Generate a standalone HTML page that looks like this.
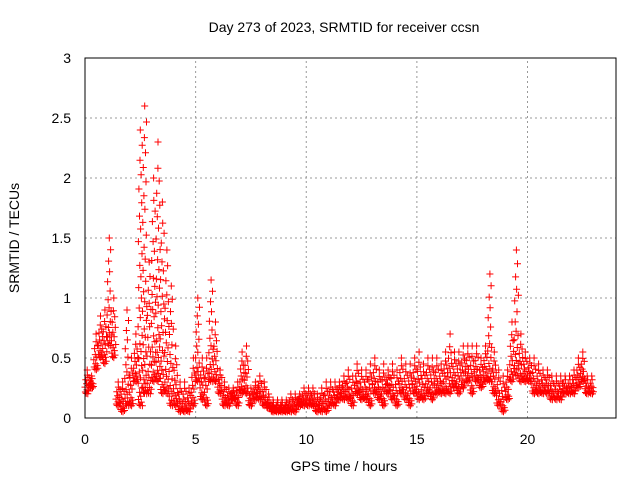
<!DOCTYPE html>
<html><head><meta charset="utf-8"><style>
body{margin:0;background:#fff}
svg text{font-family:"Liberation Sans",sans-serif;font-size:14px;fill:#000}
</style></head><body>
<svg id="chart" width="640" height="480">
<text x="344" y="32" text-anchor="middle">Day 273 of 2023, SRMTID for receiver ccsn</text>
<text transform="translate(19,238) rotate(-90)" text-anchor="middle">SRMTID / TECUs</text>
<text x="344" y="471" text-anchor="middle">GPS time / hours</text>
<g id="grid"></g><g id="ticks"></g><g id="pts"></g>
<rect x="85" y="58" width="531" height="360" fill="none" stroke="#000" stroke-width="1"/>
</svg>
<script>
const xTicks=[0,5,10,15,20];
const yTicks=[0,0.5,1,1.5,2,2.5,3];
const yTickLabels=["0","0.5","1","1.5","2","2.5","3"];
const step=0.2;
const lo=[.2,.25,.4,.5,.45,.6,.5,.1,.05,.1,.1,.3,.1,.2,.2,.3,.3,.2,.2,.1,.1,.05,.05,.05,.1,.3,.15,.1,.3,.3,.2,.1,.1,.15,.1,.2,.2,.1,.15,.15,.1,.08,.05,.05,.05,.05,.05,.05,.1,.1,.1,.1,.05,.05,.05,.1,.1,.15,.15,.15,.1,.2,.15,.15,.1,.2,.15,.1,.2,.15,.1,.2,.15,.1,.2,.15,.15,.2,.15,.2,.2,.2,.2,.25,.2,.25,.3,.2,.3,.25,.3,.3,.2,.1,.05,.15,.3,.35,.3,.3,.3,.2,.2,.2,.2,.15,.15,.15,.2,.2,.2,.25,.3,.2,.2];
const hi=[.4,.35,.7,.85,.9,1.5,1.0,.3,.3,.9,.5,.7,2.4,2.6,1.3,2.0,2.3,1.8,1.4,1.1,.6,.3,.3,.25,.5,1.0,.5,.5,1.15,.8,.4,.3,.25,.25,.3,.55,.6,.25,.3,.35,.3,.2,.15,.15,.15,.15,.2,.2,.2,.25,.25,.25,.2,.25,.3,.3,.3,.3,.35,.4,.35,.45,.4,.4,.45,.5,.4,.45,.4,.45,.4,.5,.45,.45,.5,.55,.45,.5,.5,.5,.45,.55,.7,.55,.55,.6,.6,.6,.6,.5,.6,1.2,.55,.4,.35,.4,.8,1.4,.7,.55,.5,.5,.45,.4,.4,.35,.35,.35,.35,.35,.4,.5,.55,.35,.35];
const X0=85,X1=616,Y0=418,Y1=58,XMAX=24,YMAX=3;
const sx=v=>X0+(X1-X0)*v/XMAX, sy=v=>Y0-(Y0-Y1)*v/YMAX;
const NS="http://www.w3.org/2000/svg";
const grid=document.getElementById('grid'),ticks=document.getElementById('ticks'),pts=document.getElementById('pts');
function mk(tag,at,parent){const e=document.createElementNS(NS,tag);for(const k in at)e.setAttribute(k,at[k]);parent.appendChild(e);return e;}
xTicks.forEach(v=>{
 if(v>0){const g=mk('line',{x1:sx(v),x2:sx(v),y1:Y0,y2:Y1,stroke:'#999','stroke-dasharray':'2,3'},grid);
 
 }
 const t=mk('text',{x:sx(v),y:Y0+26,'text-anchor':'middle'},ticks);t.textContent=v;
 
 
});
yTicks.forEach((v,i)=>{
 if(v>0&&v<YMAX){const g=mk('line',{x1:X0,x2:X1,y1:sy(v),y2:sy(v),stroke:'#999','stroke-dasharray':'2,3'},grid);
 
 }
 const t=mk('text',{x:X0-14,y:sy(v)+5,'text-anchor':'end'},ticks);t.textContent=yTickLabels[i];
 
 
});
function vdc(j){let f=0,b=0.5;while(j>0){if(j&1)f+=b;j>>=1;b/=2;}return f;}
let d='';
function plus(t,v){const x=sx(t),y=sy(v);d+=`M${(x-3.5).toFixed(1)} ${y.toFixed(1)}h7M${x.toFixed(1)} ${(y-3.5).toFixed(1)}v7`;}
lo.forEach((l,i)=>{
 const h=hi[i];const n=9+Math.round((h-l)*10);
 for(let j=0;j<n;j++){
  const t=i*step+step*j/n;
  const f=Math.pow(vdc(j+1),1.8);
  plus(t,l+(h-l)*f);
 }
 plus(i*step+step*0.5,h);
});
const p=mk('path',{d:d,stroke:'#f00','stroke-width':1,fill:'none'},pts);


</script>
</body></html>
